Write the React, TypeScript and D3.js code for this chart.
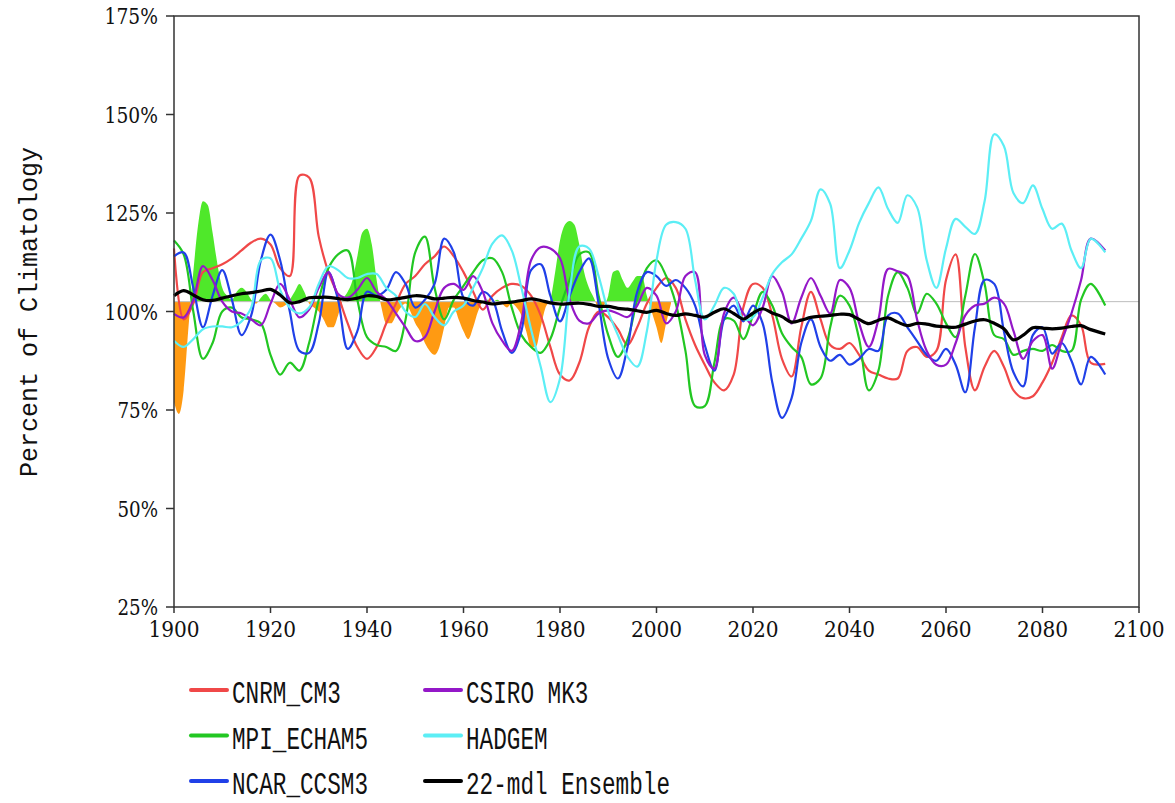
import * as d3 from "d3";

// model years: every 2nd year, last sample at 2093
const YEARS = [...d3.range(1900, 2092, 2), 2093];

const CNRM_CM3 = [
  116, 98, 102, 110, 111, 112, 113.5, 115.5, 117.5, 118.5,
  117, 111, 109, 134.5, 134, 119, 110, 104, 97, 91,
  88, 91, 97, 102, 107, 109, 112, 114, 116.5, 114,
  110, 105, 100.5, 104, 106, 107, 106.5, 104, 99, 91,
  84, 82.5, 87, 96, 100, 98.5, 95.5, 91.5, 96, 102,
  106, 108.5, 106, 98, 91.5, 86.5, 82, 80, 84, 101,
  107, 106, 99, 88, 83.5, 96, 105, 98, 91.5, 90.5,
  92, 89, 85, 84, 83, 83, 90, 91, 88.5, 90,
  108, 114.5, 91, 80, 86, 90, 86, 80, 78, 78.5,
  82, 87, 93.5, 99, 96.5, 87, 86.7,
];

const MPI_ECHAM5 = [
  118, 114.5, 100, 88, 92, 100, 101, 98.5, 98, 97,
  89, 84, 87, 85, 92, 103, 111, 114.5, 115.5, 103,
  93.5, 91.5, 91, 90, 98, 115, 119, 106, 98, 103,
  106.5, 110, 113, 113.5, 110, 101, 94, 91, 89.5, 93,
  101, 108, 114.5, 115, 104, 94, 88.5, 93, 103, 111,
  113, 109, 102, 90, 76, 76, 87, 98, 97.7, 93,
  99, 105, 101.5, 94.5, 91, 88.5, 81.5, 83, 96, 104,
  101.5, 93, 80, 85, 104, 110, 106, 99.5, 104.5, 102,
  97, 93.5, 104, 114.6, 107, 94, 93, 89, 90, 90.5,
  90, 91.5, 90, 90, 103, 107, 101.5,
];

const NCAR_CCSM3 = [
  114, 115, 106, 96, 104, 110.5, 103, 94, 99, 113,
  119.5, 113, 100, 90, 89.5, 97, 110, 103, 90.5, 95,
  105, 104, 105.5, 110, 107, 101, 103, 107, 118.5, 115,
  103.5, 101.5, 105, 103, 95, 89.5, 95, 110.5, 112, 104,
  97.5, 104, 110, 113.5, 102, 88, 83, 91, 105, 110,
  109, 106.5, 108, 106, 101.5, 91.5, 85, 98, 101.5, 97.5,
  101.5, 97, 82, 73, 78, 92, 98, 91, 87.5, 89,
  86.5, 88, 90.5, 90, 99, 99.5, 96, 92.5, 89, 87.5,
  90.5, 86.5, 79.5, 96, 108, 107, 95, 84.5, 81, 94,
  96, 89.3, 92, 87.5, 81.5, 88.5, 84,
];

const CSIRO_MK3 = [
  99.4, 98.5, 103, 111.5, 108, 102.5, 100, 99.5, 98, 96.5,
  102, 107, 103, 98.5, 100.5, 106, 110, 104.5, 103.5, 105.5,
  108.5, 105, 103, 99.5, 96, 92.5, 93.5, 100, 106, 107,
  105.5, 109, 105, 97, 92.6, 90, 97.5, 113, 116.3, 116,
  113.5, 103, 97.7, 97, 99.5, 100.3, 99.5, 98.6, 101.5, 106,
  104, 97, 100, 109, 110, 89, 85.5, 99.5, 103.5, 99.5,
  96.5, 101, 109, 105, 97, 103.5, 108.5, 104, 99.5, 108,
  106, 97, 91, 98, 110.8, 110.2, 109, 98, 90, 86.5,
  86.5, 92, 99, 101.5, 102, 103.5, 102, 95, 88, 92.5,
  94, 85.5, 92.5, 99.5, 108, 118.5, 115.5,
];

const HADGEM = [
  92.6, 91, 93, 95.5, 96.2, 96.2, 96, 97.5, 101, 113,
  113.5, 105.5, 101, 99.5, 101, 107, 111.5, 110.5, 108.5, 108.5,
  109.5, 109.5, 106, 104, 100, 98.6, 101.9, 98.6, 96.5, 100,
  101.5, 106, 111, 117.2, 119.3, 115.5, 106, 95.5, 86, 77,
  83, 105, 116.5, 116, 109, 100, 94, 88.5, 86, 95,
  113, 122, 122.7, 121, 108, 98, 101.5, 106, 104.5, 98,
  98.5, 103.5, 109.5, 112.5, 114.5, 118.5, 123, 131, 127.3, 111,
  115.5, 122.5, 127.5, 131.5, 126, 122.5, 129.5, 126.5, 113, 106,
  116, 123.5, 121.5, 119.7, 128, 145, 142, 130, 127.5, 132,
  126, 121, 122.3, 115.5, 111, 118.5, 115,
];

const ENSEMBLE_22 = [
  104, 105.3, 104.2, 103, 102.8, 103.4, 104, 104.5, 104.8, 105.2,
  105.6, 104.2, 102.2, 102.5, 103.5, 103.6, 103.6, 103.3, 103, 103.4,
  104, 103.8, 103, 103.2, 103.6, 104, 103.8, 103.2, 103.4, 103.6,
  103.4, 102.8, 102.4, 101.9, 102.2, 102.4, 102.8, 103.2, 102.8, 102.2,
  101.9, 102, 102.1, 101.8, 101.3, 101.3, 100.8, 100.6, 100.2, 99.8,
  100.3, 99.5, 99, 99.4, 99, 98.6, 99.8, 100.7, 99.5, 98.1,
  99.6, 100.7, 99.6, 98.7, 97.3, 97.8, 98.5, 98.8, 99, 99.3,
  99.2, 98, 96.9, 97.8, 98.4, 97.3, 96.4, 97, 96.8, 96.3,
  96.1, 96, 96.8, 97.6, 97.9, 97, 95.6, 92.8, 94, 95.9,
  95.8, 95.6, 95.8, 96.2, 96.4, 95.4, 94.3,
];

// observed series, yearly 1900-2003, shaded against the climatology line
const OBS_YEARS = d3.range(1900, 2004);
const OBSERVED = [
  77, 74, 80, 96, 110, 122, 128, 127, 120, 112,
  106, 104, 103, 105, 106, 105, 103, 102, 103.5, 104.5,
  103, 102, 101, 101.5, 103, 105, 107, 105, 102, 101,
  100, 98, 96, 96, 99, 103, 105, 108, 114, 120,
  121, 117, 108, 101, 97, 97, 99, 101, 102, 100,
  97, 95, 92, 90, 89, 91, 96, 101, 101, 98,
  95, 93, 96, 100, 102.5, 103, 102.5, 103, 102, 101,
  102, 101, 99, 95, 91, 91, 96, 101, 103, 110,
  118, 122, 123, 122, 117, 110, 106, 103.5, 101, 101.5,
  104, 110, 110.5, 108, 106, 107.5, 109, 109, 104, 100,
  96, 92, 97, 102,
];
const BASELINE = 102.5;

const Y_TICKS = [25, 50, 75, 100, 125, 150, 175];
const X_TICKS = d3.range(1900, 2101, 20);

const SERIES = [
  { name: "CNRM_CM3", color: "#f04848", values: CNRM_CM3, width: 2.2 },
  { name: "MPI_ECHAM5", color: "#22c722", values: MPI_ECHAM5, width: 2.2 },
  { name: "NCAR_CCSM3", color: "#2040e8", values: NCAR_CCSM3, width: 2.2 },
  { name: "CSIRO MK3", color: "#9418c8", values: CSIRO_MK3, width: 2.2 },
  { name: "HADGEM", color: "#5ceef5", values: HADGEM, width: 2.2 },
  { name: "22-mdl Ensemble", color: "#000000", values: ENSEMBLE_22, width: 3.2 },
];

const LEGEND_COLS = [
  ["CNRM_CM3", "MPI_ECHAM5", "NCAR_CCSM3"],
  ["CSIRO MK3", "HADGEM", "22-mdl Ensemble"],
];

// approximate label width: digits ~12.8px, percent sign ~15px
const labelWidth = (s: string) => s.replace("%", "").length * 12.8 + (s.includes("%") ? 15 : 0);

export default function App() {
  const width = 1175;
  const height = 803;
  const plot = { left: 174, right: 1139, top: 16, bottom: 607 };

  const x = d3.scaleLinear().domain([1900, 2100]).range([plot.left, plot.right]);
  const y = d3.scaleLinear().domain([25, 175]).range([plot.bottom, plot.top]);

  const line = d3
    .line<[number, number]>()
    .x((d) => x(d[0]))
    .y((d) => y(d[1]))
    .curve(d3.curveCatmullRom.alpha(0.5));

  const obsPoints: [number, number][] = OBS_YEARS.map((yr, i) => [yr, OBSERVED[i]]);
  const obsArea = d3
    .area<[number, number]>()
    .x((d) => x(d[0]))
    .y0(y(BASELINE))
    .y1((d) => y(d[1]))
    .curve(d3.curveMonotoneX);

  const byName = new Map(SERIES.map((s) => [s.name, s]));
  const serif = "DejaVu Serif";
  const mono = "Liberation Mono";

  return (
    <svg
      width={width}
      height={height}
      style={{ position: "absolute", left: 0, top: 0, background: "#fff" }}
    >
      <defs>
        <clipPath id="aboveBase">
          <rect x={plot.left} y={plot.top} width={plot.right - plot.left} height={y(BASELINE) - plot.top} />
        </clipPath>
        <clipPath id="belowBase">
          <rect x={plot.left} y={y(BASELINE)} width={plot.right - plot.left} height={plot.bottom - y(BASELINE)} />
        </clipPath>
      </defs>

      {/* observed anomalies */}
      <path d={obsArea(obsPoints) ?? ""} fill="#4fe82a" clipPath="url(#aboveBase)" />
      <path d={obsArea(obsPoints) ?? ""} fill="#ff9a12" clipPath="url(#belowBase)" />

      <line
        x1={plot.left}
        x2={plot.right}
        y1={y(BASELINE)}
        y2={y(BASELINE)}
        stroke="#bdbdbd"
        strokeWidth={1}
      />

      {SERIES.map((s) => {
        const pts: [number, number][] = YEARS.slice(0, s.values.length).map((yr, i) => [yr, s.values[i]]);
        return (
          <path
            key={s.name}
            d={line(pts) ?? ""}
            fill="none"
            stroke={s.color}
            strokeWidth={s.width}
            strokeLinejoin="round"
          />
        );
      })}

      {/* frame */}
      <rect
        x={plot.left}
        y={plot.top}
        width={plot.right - plot.left}
        height={plot.bottom - plot.top}
        fill="none"
        stroke="#333"
        strokeWidth={1.5}
      />

      {Y_TICKS.map((t) => (
        <g key={`y-${t}`}>
          <line x1={plot.left - 8} x2={plot.left} y1={y(t)} y2={y(t)} stroke="#333" strokeWidth={1.5} />
          <text
            x={plot.left - 16}
            y={y(t) + 8}
            textAnchor="end"
            fontFamily={serif}
            fontSize={23}
            textLength={labelWidth(`${t}%`)}
            lengthAdjust="spacingAndGlyphs"
            fill="#111"
          >
            {`${t}%`}
          </text>
        </g>
      ))}

      {X_TICKS.map((t) => (
        <g key={`x-${t}`}>
          <line x1={x(t)} x2={x(t)} y1={plot.bottom} y2={plot.bottom + 6} stroke="#333" strokeWidth={1.5} />
          <text
            x={x(t)}
            y={plot.bottom + 30}
            textAnchor="middle"
            fontFamily={serif}
            fontSize={23}
            textLength={labelWidth(String(t))}
            lengthAdjust="spacingAndGlyphs"
            fill="#111"
          >
            {t}
          </text>
        </g>
      ))}

      <text
        x={30}
        y={312}
        transform="rotate(-90, 30, 312)"
        textAnchor="middle"
        dominantBaseline="central"
        fontFamily={mono}
        fontSize={25}
        fill="#111"
      >
        Percent of Climatology
      </text>

      {LEGEND_COLS.map((col, ci) =>
        col.map((name, ri) => {
          const s = byName.get(name)!;
          const lx = ci === 0 ? 191 : 425;
          const rowY = 690 + ri * 45.5;
          return (
            <g key={name}>
              <line x1={lx} x2={lx + 36} y1={rowY} y2={rowY} stroke={s.color} strokeWidth={4} strokeLinecap="round" />
              <text
                x={lx + 41}
                y={rowY + 13}
                fontFamily={mono}
                fontSize={31}
                textLength={name.length * 13.6}
                lengthAdjust="spacingAndGlyphs"
                fill="#111"
              >
                {name}
              </text>
            </g>
          );
        })
      )}
    </svg>
  );
}
